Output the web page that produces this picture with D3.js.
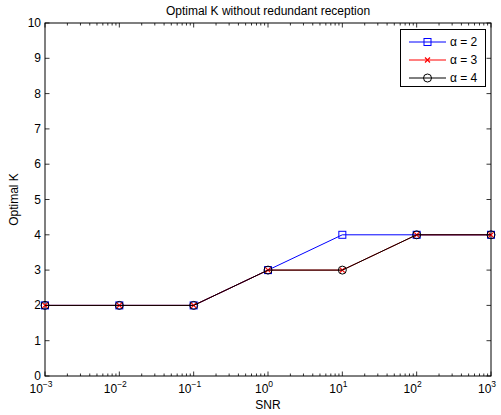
<!DOCTYPE html>
<html>
<head>
<meta charset="utf-8">
<script src="https://cdn.jsdelivr.net/npm/d3@7"></script>
<style>
  body { margin: 0; background: #fff; }
  text { font-family: "Liberation Sans", Arial, sans-serif; }
</style>
</head>
<body>
<div id="chart"></div>
<script>
// data
const snr = [1e-3, 1e-2, 1e-1, 1e0, 1e1, 1e2, 1e3];
const kAlpha2 = [2, 2, 2, 3, 4, 4, 4];
const kAlpha3 = [2, 2, 2, 3, 3, 4, 4];
const kAlpha4 = [2, 2, 2, 3, 3, 4, 4];
const seriesNames = ['\u03b1 = 2', '\u03b1 = 3', '\u03b1 = 4'];
const yTicks = [0, 1, 2, 3, 4, 5, 6, 7, 8, 9, 10];
const xExponents = [-3, -2, -1, 0, 1, 2, 3];

const W = 501, H = 415;
const pLeft = 45, pRight = 491, pTop = 23, pBottom = 376;
const fs = 12;

const svg = d3.select('#chart').append('svg')
    .attr('width', W)
    .attr('height', H);

const x = d3.scaleLog().domain([1e-3, 1e3]).range([pLeft, pRight]);
const y = d3.scaleLinear().domain([0, 10]).range([pBottom, pTop]);

const series = [
    {name: seriesNames[0], values: kAlpha2, color: '#0000ff', marker: 'square'},
    {name: seriesNames[1], values: kAlpha3, color: '#ff0000', marker: 'x'},
    {name: seriesNames[2], values: kAlpha4, color: '#000000', marker: 'circle'}
];

// frame
svg.append('rect')
    .attr('x', pLeft).attr('y', pTop)
    .attr('width', pRight - pLeft).attr('height', pBottom - pTop)
    .attr('fill', 'white').attr('stroke', 'black').attr('stroke-width', 1);

// minor + major ticks on x (bottom and top)
const minorX = [];
for (let e = -3; e < 3; e++) {
    for (let m = 2; m <= 9; m++) minorX.push(m * Math.pow(10, e));
}
const majorX = xExponents.map(e => Math.pow(10, e));

const ticksG = svg.append('g').attr('stroke', 'black').attr('stroke-width', 0.8);
ticksG.selectAll('.xminor-b').data(minorX).enter().append('line')
    .attr('x1', d => x(d)).attr('x2', d => x(d))
    .attr('y1', pBottom).attr('y2', pBottom - 2.5);
ticksG.selectAll('.xminor-t').data(minorX).enter().append('line')
    .attr('x1', d => x(d)).attr('x2', d => x(d))
    .attr('y1', pTop).attr('y2', pTop + 2.5);
ticksG.selectAll('.xmajor-b').data(majorX).enter().append('line')
    .attr('x1', d => x(d)).attr('x2', d => x(d))
    .attr('y1', pBottom).attr('y2', pBottom - 4.5);
ticksG.selectAll('.xmajor-t').data(majorX).enter().append('line')
    .attr('x1', d => x(d)).attr('x2', d => x(d))
    .attr('y1', pTop).attr('y2', pTop + 4.5);
ticksG.selectAll('.ytick-l').data(yTicks).enter().append('line')
    .attr('x1', pLeft).attr('x2', pLeft + 4.5)
    .attr('y1', d => y(d)).attr('y2', d => y(d));
ticksG.selectAll('.ytick-r').data(yTicks).enter().append('line')
    .attr('x1', pRight).attr('x2', pRight - 4.5)
    .attr('y1', d => y(d)).attr('y2', d => y(d));

// y tick labels
svg.selectAll('.ylab').data(yTicks).enter().append('text')
    .attr('x', pLeft - 4)
    .attr('y', d => y(d) + 4)
    .attr('text-anchor', 'end')
    .attr('font-size', fs)
    .text(d => d);

// x tick labels 10^n
const xl = svg.selectAll('.xlab').data(xExponents).enter().append('text')
    .attr('x', d => x(Math.pow(10, d)) - 4)
    .attr('y', pBottom + 17)
    .attr('text-anchor', 'middle')
    .attr('font-size', fs);
xl.append('tspan').text('10');
xl.append('tspan')
    .attr('font-size', 8.5)
    .attr('dy', -6)
    .text(d => d < 0 ? '\u2212' + (-d) : d);

// axis labels and title
svg.append('text')
    .attr('x', (pLeft + pRight) / 2).attr('y', 409)
    .attr('text-anchor', 'middle').attr('font-size', fs)
    .text('SNR');
svg.append('text')
    .attr('transform', `translate(18, ${(pTop + pBottom) / 2}) rotate(-90)`)
    .attr('text-anchor', 'middle').attr('font-size', fs)
    .text('Optimal K');
svg.append('text')
    .attr('x', (pLeft + pRight) / 2).attr('y', 15)
    .attr('text-anchor', 'middle').attr('font-size', fs)
    .text('Optimal K without redundant reception');

// lines + markers
const line = d3.line().x((d, i) => x(snr[i])).y(d => y(d));

function drawMarker(g, type, color, cx, cy) {
    if (type === 'square') {
        g.append('rect')
            .attr('x', cx - 3.5).attr('y', cy - 3.5)
            .attr('width', 7).attr('height', 7)
            .attr('fill', 'none').attr('stroke', color).attr('stroke-width', 1);
    } else if (type === 'x') {
        g.append('path')
            .attr('d', `M${cx - 2.5},${cy - 2.5}L${cx + 2.5},${cy + 2.5}M${cx - 2.5},${cy + 2.5}L${cx + 2.5},${cy - 2.5}`)
            .attr('stroke', color).attr('stroke-width', 1.2);
    } else {
        g.append('circle')
            .attr('cx', cx).attr('cy', cy).attr('r', 4)
            .attr('fill', 'none').attr('stroke', color).attr('stroke-width', 1);
    }
}

const plot = svg.append('g');
series.forEach(s => {
    const g = plot.append('g');
    g.append('path')
        .datum(s.values)
        .attr('d', line)
        .attr('fill', 'none')
        .attr('stroke', s.color)
        .attr('stroke-width', 1);
    s.values.forEach((v, i) => drawMarker(g, s.marker, s.color, x(snr[i]), y(v)));
});

// legend
const lg = svg.append('g');
lg.append('rect')
    .attr('x', 400.5).attr('y', 29.5)
    .attr('width', 85).attr('height', 57)
    .attr('fill', 'white').attr('stroke', 'black').attr('stroke-width', 1);
series.forEach((s, i) => {
    const ly = 42 + i * 18;
    lg.append('line')
        .attr('x1', 409).attr('x2', 446)
        .attr('y1', ly).attr('y2', ly)
        .attr('stroke', s.color).attr('stroke-width', 1);
    drawMarker(lg, s.marker, s.color, 427.5, ly);
    lg.append('text')
        .attr('x', 450).attr('y', ly + 4)
        .attr('font-size', fs)
        .text(s.name);
});
</script>
</body>
</html>
